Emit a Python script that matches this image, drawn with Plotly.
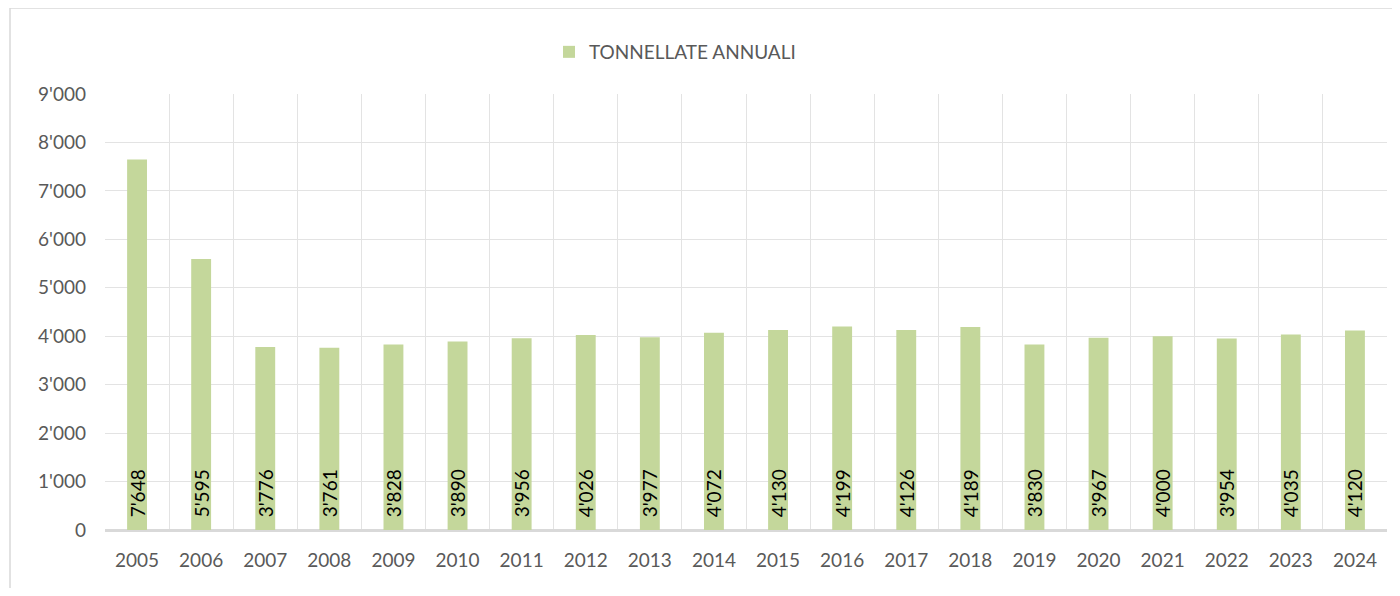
import plotly.graph_objects as go

years = ["2005", "2006", "2007", "2008", "2009", "2010", "2011", "2012", "2013", "2014",
         "2015", "2016", "2017", "2018", "2019", "2020", "2021", "2022", "2023", "2024"]
tonnes = [7648, 5595, 3776, 3761, 3828, 3890, 3956, 4026, 3977, 4072,
          4130, 4199, 4126, 4189, 3830, 3967, 4000, 3954, 4035, 4120]
series_name = "TONNELLATE ANNUALI"

FONT = "Lato, 'Open Sans', sans-serif"
GREY = "#595959"
GRID = "#E3E3E3"
AXIS = "#D9D9D9"

OFF = 8  # page body margin
W, H = 1400 - 2 * OFF, 596 - 2 * OFF
# target screen positions of plot area
SL, SR, ST, SB = 105, 1387, 94, 530
ML, MT = SL - OFF, ST - OFF
MR = W - (SR - OFF)
MB = H - (SB - OFF)
pw, ph = W - ML - MR, H - MT - MB

def px_x(x):
    return (x - SL) / pw

def px_y(y):
    return (SB - y) / ph

fig = go.Figure()
fig.add_trace(go.Bar(
    x=years, y=tonnes, name=series_name,
    marker=dict(color="#C4D79B", line=dict(width=0)),
    texttemplate="\u00a0\u00a0%{y:,}", textposition="inside", insidetextanchor="start",
    textangle=-90, insidetextfont=dict(color="black", size=19, family=FONT),
    constraintext="none", cliponaxis=False,
))

fig.update_layout(
    width=W, height=H,
    margin=dict(l=ML, r=MR, t=MT, b=MB),
    paper_bgcolor="white", plot_bgcolor="white",
    separators=".'",
    bargap=0.69,
    showlegend=True,
    legend=dict(orientation="h", x=px_x(675), xanchor="center", y=px_y(52), yanchor="middle",
                font=dict(size=19, color=GREY, family=FONT), itemwidth=30),
    font=dict(family=FONT, color=GREY, size=19),
    xaxis=dict(type="category", tickson="boundaries", showgrid=True, gridcolor=GRID, gridwidth=1,
               ticks="", showline=True, linecolor=AXIS, linewidth=1.5,
               tickfont=dict(size=19, color=GREY, family=FONT), ticklabelstandoff=12,
               mirror=False),
    yaxis=dict(range=[0, 9000], dtick=1000, tickformat=",", showgrid=True, gridcolor=GRID,
               gridwidth=1, zeroline=True, zerolinecolor=AXIS, zerolinewidth=1.5,
               ticks="", tickfont=dict(size=19, color=GREY, family=FONT), ticklabelstandoff=18),
    shapes=[dict(type="rect", xref="paper", yref="paper",
                 x0=px_x(10), x1=px_x(1395), y0=px_y(8), y1=px_y(640),
                 line=dict(color=AXIS, width=1.5), fillcolor="rgba(0,0,0,0)", layer="below")],
)

fig.write_html("out.html")
